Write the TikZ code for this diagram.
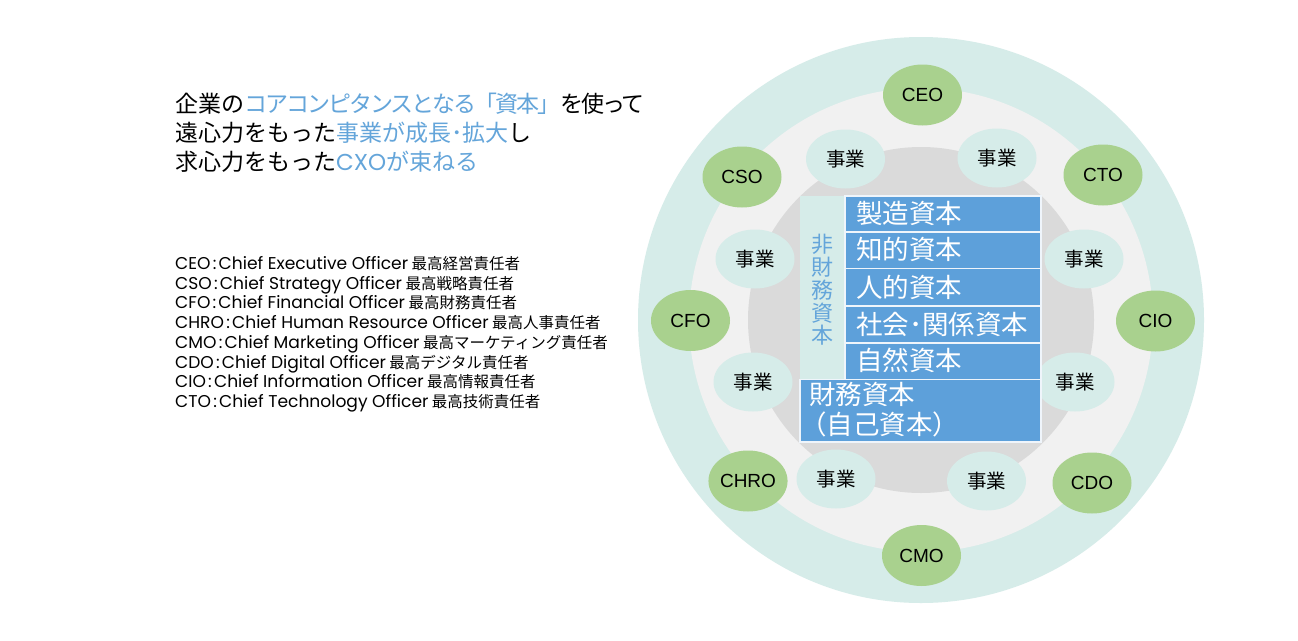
\documentclass[tikz,border=0pt]{standalone}
\usepackage{fontspec}
\setmainfont{Noto Sans CJK JP}
\newfontfamily\arialf{Liberation Sans}
\newfontfamily\latf{Poppins}
\newfontfamily\jptight[LetterSpace=-8.7]{Noto Sans CJK JP}
\usetikzlibrary{shapes.geometric}
\definecolor{ringteal}{RGB}{214,236,233}
\definecolor{midgray}{RGB}{241,241,241}
\definecolor{innergray}{RGB}{218,218,218}
\definecolor{cxogreen}{RGB}{169,209,142}
\definecolor{boxblue}{RGB}{93,160,218}
\definecolor{textblue}{RGB}{100,165,218}
\newcommand\legitem[3]{{\latf\fontsize{17.1}{18}\selectfont #1\hspace{2.2pt}:\hspace{2.2pt}#2} #3}
\tikzset{
  cxo/.style={ellipse, fill=cxogreen, minimum width=79pt, minimum height=61pt, inner sep=0pt, font=\arialf\fontsize{19}{19}\selectfont},
  biz/.style={ellipse, fill=ringteal, minimum width=79pt, minimum height=59pt, inner sep=0pt, font=\fontsize{19.5}{19.5}\selectfont},
  rowbox/.style={fill=boxblue, draw=white!90!boxblue, line width=1.6pt},
  rowtext/.style={anchor=west, inner sep=0pt, text=white, font=\fontsize{26.5}{26.5}\selectfont},
  titleline/.style={anchor=west, inner sep=0pt, font=\fontsize{23}{26}\selectfont},
  legline/.style={anchor=base west, inner sep=0pt, font=\fontsize{15.5}{16}\selectfont},
}
\begin{document}
\begin{tikzpicture}[x=1pt,y=-1pt]
\useasboundingbox[fill=white] (0,0) rectangle (1298,640);
% rings
\fill[ringteal] (921,320) circle[radius=283pt];
\fill[midgray] (921,320) circle[radius=232pt];
\fill[innergray] (921,320) circle[radius=173pt];
% CXO ellipses
\node[cxo] (ceo) at (922.5,95) {CEO};
\node[cxo] (cso) at (742,177) {CSO};
\node[cxo] (cto) at (1103,175) {CTO};
\node[cxo] (cfo) at (690.5,320.5) {CFO};
\node[cxo] (cio) at (1155.5,321) {CIO};
\node[cxo] (chro) at (748,481) {CHRO};
\node[cxo] (cdo) at (1092,483) {CDO};
\node[cxo] (cmo) at (921.5,555.5) {CMO};
% business ellipses
\node[biz] (b1) at (845.5,159) {事業};
\node[biz] (b2) at (997,158) {事業};
\node[biz] (b3) at (755,259) {事業};
\node[biz] (b4) at (1084,259) {事業};
\node[biz] (b5) at (753,382) {事業};
\node[biz] (b6) at (1075,382) {事業};
\node[biz] (b7) at (836,479) {事業};
\node[biz] (b8) at (986.5,481) {事業};
% central capital box
\fill[ringteal] (800,196) rectangle (845,379.5);
\node[inner sep=0pt, text=textblue, align=center, font=\fontsize{22}{22.8}\selectfont] (nonfin) at (822.5,290) {非\\財\\務\\資\\本};
\draw[rowbox] (845,196) rectangle (1041,232);
\draw[rowbox] (845,232) rectangle (1041,268.5);
\draw[rowbox] (845,268.5) rectangle (1041,306);
\draw[rowbox] (845,306) rectangle (1041,343);
\draw[rowbox] (845,343) rectangle (1041,379.5);
\draw[rowbox] (800,379.5) rectangle (1041,442);
\node[rowtext] (r1) at (856,213) {製造資本};
\node[rowtext] (r2) at (856,249.5) {知的資本};
\node[rowtext] (r3) at (856,287) {人的資本};
\node[rowtext] (r4) at (856,324) {社会･関係資本};
\node[rowtext] (r5) at (856,360.5) {自然資本};
\node[rowtext] (r6) at (809,394) {財務資本};
\node[rowtext] (r7) at (800,424) {（自己資本）};
% title
\node[titleline] (t1) at (175,104) {企業の{\jptight\textcolor{textblue}{コアコンピタンスとなる「資本」}を使って}};
\node[titleline] (t2) at (175,133) {遠心力をもった\textcolor{textblue}{事業が成長･拡大}し};
\node[titleline] (t3) at (175,162) {求心力をもった\textcolor{textblue}{{\latf CXO}が束ねる}};
% legend
\node[legline] (l1) at (175,269.5) {\legitem{CEO}{Chief Executive Officer}{最高経営責任者}};
\node[legline] (l2) at (175,289.2) {\legitem{CSO}{Chief Strategy Officer}{最高戦略責任者}};
\node[legline] (l3) at (175,308.9) {\legitem{CFO}{Chief Financial Officer}{最高財務責任者}};
\node[legline] (l4) at (175,328.6) {\legitem{CHRO}{Chief Human Resource Officer}{最高人事責任者}};
\node[legline] (l5) at (175,348.3) {\legitem{CMO}{Chief Marketing Officer}{最高マーケティング責任者}};
\node[legline] (l6) at (175,368) {\legitem{CDO}{Chief Digital Officer}{最高デジタル責任者}};
\node[legline] (l7) at (175,387.7) {\legitem{CIO}{Chief Information Officer}{最高情報責任者}};
\node[legline] (l8) at (175,407.4) {\legitem{CTO}{Chief Technology Officer}{最高技術責任者}};
\end{tikzpicture}
\end{document}
